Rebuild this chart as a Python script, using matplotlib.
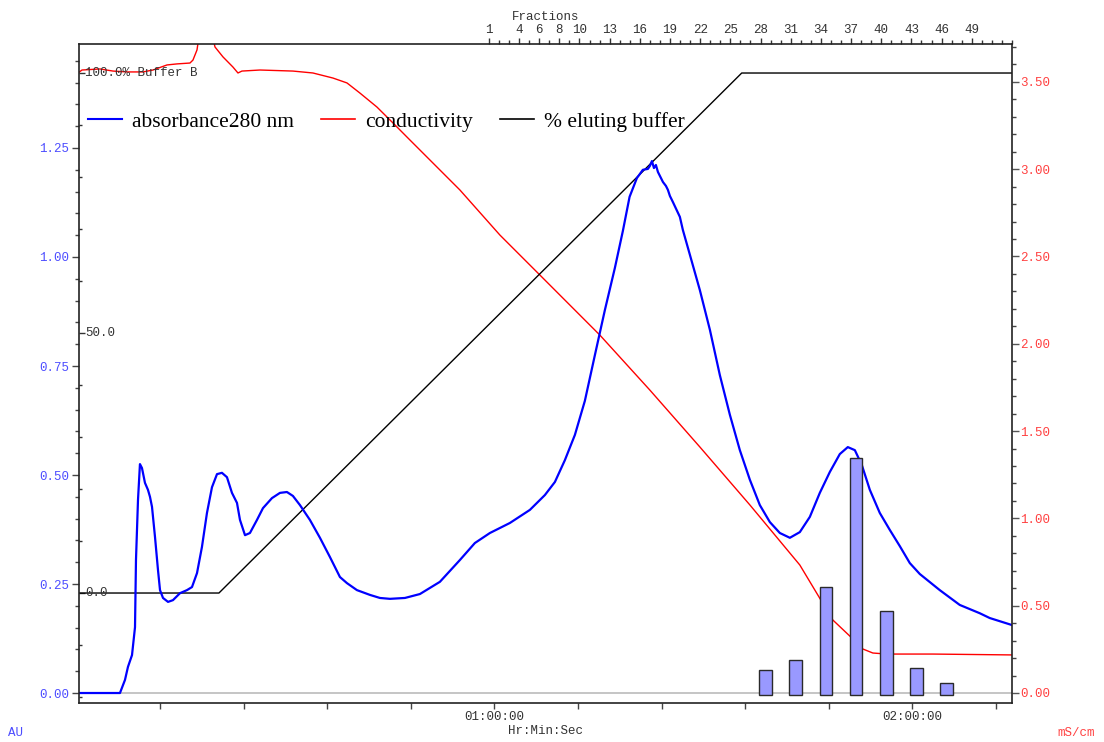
import matplotlib
matplotlib.use("Agg")
import matplotlib.pyplot as plt
from matplotlib.ticker import MultipleLocator, FixedLocator, FuncFormatter, NullFormatter
from matplotlib.lines import Line2D

# ---------------- data ----------------
abs_time = [0.5, 6.24, 6.96, 7.39, 7.97, 8.40, 8.54, 8.83, 9.11, 9.40, 9.83, 10.26, 10.55,
            10.84, 11.27, 11.70, 11.99, 12.42, 13.14, 13.85, 14.86, 15.86, 16.58, 17.30,
            18.01, 18.73, 19.45, 20.17, 20.88, 21.60, 22.32, 23.04, 23.47, 24.19, 24.90,
            25.91, 26.77, 28.06, 29.21, 30.21, 31.07, 32.08, 33.51, 34.95, 36.38, 37.82,
            38.83, 40.26, 42.13, 43.56, 45.00, 47.15, 49.30, 52.17, 55.04, 57.19, 59.35,
            62.22, 65.09, 67.24, 68.68, 70.11, 71.55, 72.98, 74.42, 75.85, 77.29, 78.44,
            79.40, 80.45, 81.31, 82.03, 82.32, 82.61, 82.90, 83.18, 83.47, 84.19, 84.62,
            84.90, 85.19, 85.62, 86.62, 87.05, 88.06, 89.49, 90.93, 92.36, 93.80, 95.23,
            96.67, 98.10, 99.54, 100.97, 102.41, 103.84, 105.28, 106.71, 108.15, 109.58,
            110.73, 111.74, 112.74, 113.89, 115.32, 116.76, 118.19, 119.63, 121.06, 123.93,
            126.80, 129.67, 131.10, 134.27]
abs_au = [0.0, 0.0, 0.030, 0.060, 0.087, 0.151, 0.305, 0.443, 0.525, 0.516, 0.482, 0.466, 0.450,
          0.427, 0.358, 0.282, 0.236, 0.218, 0.209, 0.213, 0.229, 0.236, 0.243, 0.275,
          0.335, 0.413, 0.472, 0.502, 0.505, 0.495, 0.459, 0.436, 0.397, 0.362, 0.367,
          0.397, 0.424, 0.447, 0.459, 0.461, 0.452, 0.431, 0.397, 0.356, 0.312, 0.266,
          0.252, 0.236, 0.225, 0.218, 0.216, 0.218, 0.227, 0.255, 0.305, 0.344, 0.367,
          0.390, 0.420, 0.454, 0.484, 0.534, 0.592, 0.670, 0.775, 0.878, 0.975, 1.060,
          1.138, 1.181, 1.200, 1.202, 1.209, 1.220, 1.204, 1.211, 1.195, 1.172, 1.163,
          1.154, 1.140, 1.126, 1.092, 1.062, 1.005, 0.924, 0.833, 0.729, 0.638, 0.557,
          0.489, 0.431, 0.392, 0.367, 0.356, 0.369, 0.404, 0.459, 0.507, 0.548,
          0.564, 0.557, 0.523, 0.466, 0.413, 0.374, 0.337, 0.298, 0.273, 0.236,
          0.202, 0.183, 0.172, 0.156]

cond_time = [0.22, 0.79, 3.37, 5.24, 7.25, 9.54, 10.98, 12.99, 14.43, 16.29, 16.72, 17.30,
             17.73, 18.44, 19.16, 19.88, 21.03, 22.46, 23.18, 23.75, 26.34, 31.07, 33.94,
             36.82, 38.83, 40.69, 43.13, 45.43, 47.87, 49.30, 55.04, 60.78, 66.52, 75.13,
             82.31, 89.49, 96.67, 103.84, 108.58, 111.31, 112.89, 114.32, 116.33, 122.93,
             134.27]
cond_ms = [3.551, 3.568, 3.574, 3.562, 3.557, 3.557, 3.568, 3.597, 3.603, 3.608, 3.625, 3.683,
           3.80, 3.88, 3.83, 3.700, 3.643, 3.585, 3.551, 3.562, 3.568, 3.562, 3.551,
           3.522, 3.494, 3.436, 3.356, 3.265, 3.167, 3.110, 2.881, 2.623, 2.394, 2.050,
           1.735, 1.409, 1.077, 0.733, 0.418, 0.315, 0.252, 0.229, 0.223, 0.223,
           0.218]

buffer_time = [0.36, 20.45, 95.5, 134.3]
buffer_pct = [0, 0, 100, 100]

frac_bar_numbers = [28, 31, 34, 37, 40, 43, 46]
frac_bar_values = [0.053, 0.076, 0.243, 0.539, 0.188, 0.057, 0.022]

frac_tick_labels = [1, 4, 6, 8, 10, 13, 16, 19, 22, 25, 28, 31, 34, 37, 40, 43, 46, 49]
n_fractions = 53
FRAC_START = 59.21   # min, start of fraction 1
FRAC_WIDTH = 1.444   # min per fraction

time_tick_labels = {60: "01:00:00", 120: "02:00:00"}
pct_tick_labels = {0: "0.0", 50: "50.0", 100: "100.0% Buffer B"}

# ---------------- styling ----------------
MONO = "Liberation Mono"
SERIF = "Liberation Serif"
plt.rcParams["font.family"] = MONO
BLUE_TXT = "#4d4dff"
RED_TXT = "#ff4040"
GRAY_TXT = "#333333"

fig = plt.figure(figsize=(11.04, 7.42), dpi=100, facecolor="white")
ax = fig.add_axes([79 / 1104, 39 / 742, 933 / 1104, 659 / 742])
ax2 = ax.twinx()
ax3 = ax.twinx()
ax.set_zorder(3)
ax.patch.set_visible(False)

XMIN, XMAX = 0.36, 134.3
for a in (ax, ax2, ax3):
    a.set_xlim(XMIN, XMAX)
ax.set_ylim(-0.0229, 1.4885)
ax2.set_ylim(-0.0573, 3.717)
ax3.set_ylim(-21.15, 105.58)

# conductivity
ax2.plot(cond_time, cond_ms, color="#ff0000", lw=1.0)
# % eluting buffer
ax3.plot(buffer_time, buffer_pct, color="black", lw=1.0)
# zero line
ax.axhline(0, color="#bbbbbb", lw=1.2, zorder=1)
# absorbance
ax.plot(abs_time, abs_au, color="#0000ff", lw=1.6, zorder=2)


def frac_to_time(f):
    return FRAC_START + (f - 1) * FRAC_WIDTH


def time_to_frac(t):
    return (t - FRAC_START) / FRAC_WIDTH + 1


bar_x = [frac_to_time(n) + FRAC_WIDTH / 2 for n in frac_bar_numbers]
ax.bar(bar_x, [v + 0.005 for v in frac_bar_values], width=1.8, bottom=-0.005,
       color="#9999ff", edgecolor="#2a2a2a", lw=1.0, zorder=4)

# ---------------- axes / ticks ----------------
for s in ("left", "right", "top", "bottom"):
    ax.spines[s].set_color("#222222")
    ax.spines[s].set_linewidth(1.2)
for a in (ax2, ax3):
    for s in a.spines.values():
        s.set_visible(False)

# left AU axis
ax.yaxis.set_major_locator(MultipleLocator(0.25))
ax.yaxis.set_minor_locator(MultipleLocator(0.05))
ax.yaxis.set_major_formatter(FuncFormatter(lambda v, p: f"{v:.2f}"))
ax.tick_params(axis="y", which="major", length=5, width=1, color="#444444",
               labelsize=9, labelcolor=BLUE_TXT, pad=2)
ax.tick_params(axis="y", which="minor", length=3, width=1, color="#444444")

# bottom time axis
ax.xaxis.set_major_locator(FixedLocator(list(time_tick_labels.keys())))
ax.xaxis.set_minor_locator(MultipleLocator(12))
ax.xaxis.set_major_formatter(FuncFormatter(lambda v, p: time_tick_labels.get(int(round(v)), "")))
ax.xaxis.set_minor_formatter(NullFormatter())
ax.tick_params(axis="x", which="both", length=4, width=1, color="#444444",
               labelsize=9, labelcolor=GRAY_TXT, pad=2)
ax.set_xlabel("Hr:Min:Sec", fontsize=9, color=GRAY_TXT, labelpad=1)

# right conductivity axis
ax2.yaxis.set_major_locator(MultipleLocator(0.5))
ax2.yaxis.set_minor_locator(MultipleLocator(0.1))
ax2.yaxis.set_major_formatter(FuncFormatter(lambda v, p: f"{v:.2f}"))
ax2.tick_params(axis="y", which="major", length=5, width=1, color="#555555",
                labelsize=9, labelcolor=RED_TXT, pad=1)
ax2.tick_params(axis="y", which="minor", length=3, width=1, color="#444444")
ax2.tick_params(axis="x", which="both", bottom=False, labelbottom=False)

# % buffer ticks on left spine, inward
ax3.yaxis.set_ticks_position("left")
ax3.yaxis.set_major_locator(FixedLocator(list(pct_tick_labels.keys())))
ax3.yaxis.set_minor_locator(MultipleLocator(10))
ax3.yaxis.set_major_formatter(NullFormatter())
ax3.tick_params(axis="y", which="major", direction="in", length=4.5, width=1, color="#333333")
ax3.tick_params(axis="y", which="minor", direction="in", length=2.5, width=1, color="#333333")
ax3.tick_params(axis="x", which="both", bottom=False, labelbottom=False)
for v, lab in pct_tick_labels.items():
    ax3.text(0.0065, v, lab, transform=ax3.get_yaxis_transform(), ha="left", va="center",
             fontsize=9, color=GRAY_TXT)

# top fraction axis
sec = ax.secondary_xaxis("top", functions=(time_to_frac, frac_to_time))
sec.xaxis.set_major_locator(FixedLocator(frac_tick_labels))
sec.xaxis.set_minor_locator(FixedLocator(list(range(1, n_fractions + 1))))
sec.xaxis.set_major_formatter(FuncFormatter(lambda v, p: f"{int(round(v))}"))
sec.tick_params(axis="x", which="major", length=4, width=1, color="#333333",
                labelsize=9, labelcolor=GRAY_TXT, pad=1.5)
sec.tick_params(axis="x", which="minor", length=3, width=1, color="#333333")
sec.spines["top"].set_visible(False)
sec.set_xlabel("Fractions", fontsize=9, color=GRAY_TXT, labelpad=3)

# unit labels
fig.text(16 / 1104, 1 - 733 / 742, "AU", color=BLUE_TXT, fontsize=9, ha="center", va="center")
fig.text(1076 / 1104, 1 - 733 / 742, "mS/cm", color=RED_TXT, fontsize=9, ha="center", va="center")

# legend
handles = [Line2D([], [], color="#0000ff", lw=1.5),
           Line2D([], [], color="#ff0000", lw=1.2),
           Line2D([], [], color="black", lw=1.2)]
labels = ["absorbance280 nm", "conductivity", "% eluting buffer"]
leg = fig.legend(handles, labels, loc="center left", bbox_to_anchor=(88 / 1104, 1 - 122 / 742),
                 ncol=3, frameon=False, prop={"family": SERIF, "size": 15.5},
                 handlelength=1.6, handletextpad=0.45, columnspacing=1.25,
                 borderpad=0, borderaxespad=0)
leg.set_zorder(10)

fig.savefig("out.png", dpi=100, facecolor="white")
